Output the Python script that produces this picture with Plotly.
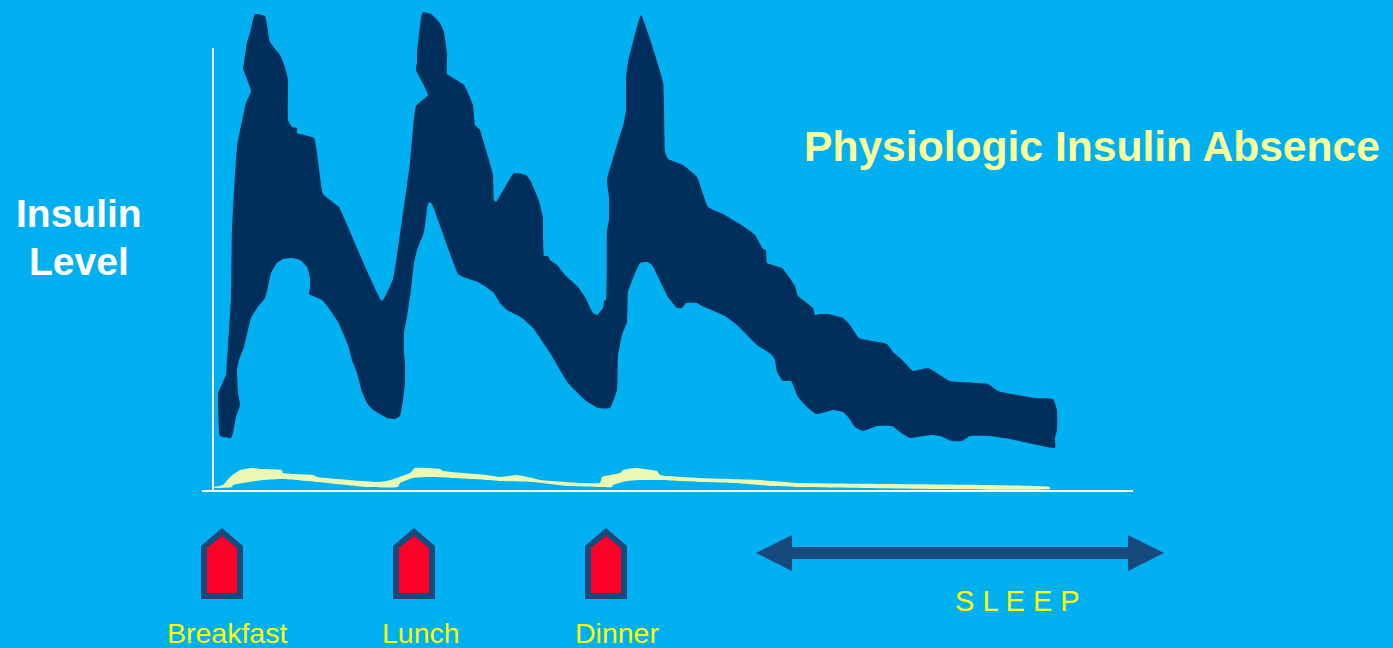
import plotly.graph_objects as go

# Horizontal / vertical positions are in the picture's own scale (y grows downward).
band_x = [218,220,231,233,236,240,238,237,239,244,251,257,265,268,271,277,283,292,300,307,310,310,309,322,328,338,348,352,357,362,367,372,387,395,400,403,405,405,404,404,407,411,414,417,424,427,427,429,432,438,448,458,463,478,493,500,507,522,533,550,568,585,598,610,617,618,622,627,628,633,640,647,652,668,677,682,686,697,700,725,737,757,772,775,777,783,791,798,807,816,822,833,843,848,855,863,877,892,900,910,930,940,952,962,970,990,1010,1055,1055,1057,1057,1053,1034,998,988,950,928,913,907,900,893,887,859,850,843,828,820,815,813,798,795,782,767,766,763,755,743,723,708,697,683,668,665,663,641,633,628,626,626,624,607,609,609,607,606,604,603,597,593,585,578,565,557,550,548,544,543,543,538,530,526,514,496,494,493,483,480,475,473,464,450,447,447,444,440,431,423,421,417,417,416,428,416,410,402,393,382,345,339,323,314,297,297,292,288,288,285,280,270,265,255,250,247,244,243,251,246,237,232,231,226]
band_y = [393,436,438,433,417,405,393,370,360,347,318,308,298,287,273,263,259,258,260,267,278,288,294,300,307,322,345,360,373,392,403,409,418,419,416,400,383,362,353,333,317,290,263,250,232,210,208,202,204,220,248,274,277,282,292,303,310,318,328,353,383,400,408,408,390,357,335,322,292,278,263,262,265,297,308,308,303,303,305,316,325,345,355,360,372,381,381,397,407,414,413,410,412,417,427,431,426,426,432,438,435,436,441,441,436,436,439,448,438,430,410,399,398,391,384,381,368,371,365,358,352,344,338,325,318,314,314,315,308,296,286,268,263,250,249,235,226,214,207,177,165,159,152,82,15,42,62,78,110,122,180,197,220,230,300,301,308,315,313,297,287,275,265,260,256,256,220,217,198,180,175,173,202,200,175,140,130,125,105,85,76,74,53,32,23,14,12,18,53,62,70,95,106,163,220,279,301,220,207,194,138,133,128,127,120,80,67,55,42,16,14,33,42,63,68,91,103,147,230,297,375]

trace_x = [214,223,230,240,252,262,282,283,313,317,377,387,410,415,440,443,487,500,517,533,540,600,602,620,623,635,657,660,700,760,800,1050,1050,800,773,733,700,660,640,627,613,612,600,567,533,500,487,453,427,413,400,398,367,317,283,263,233,232,214]
trace_y = [487,485,477,470,468,469,470,473,475,477,482,481,473,468,469,471,475,477,475,478,480,483,477,473,470,468,471,475,478,480,483,487,489,487,486,483,482,480,480,481,485,487,487,486,482,481,480,478,477,478,483,487,487,482,479,480,485,487,488]

y_axis_x = [213, 213]
y_axis_y = [48, 491]
x_axis_x = [202, 1133]
x_axis_y = [491, 491]

meal_labels = ["Breakfast", "Lunch", "Dinner"]
meal_label_x = [227, 421, 617]
meal_offsets = [0, 192, 384]
house_outer_x = [201, 201, 222, 243, 243, 201]
house_outer_y = [599, 546, 528, 546, 599, 599]
house_inner_x = [207, 207, 222, 237, 237, 207]
house_inner_y = [593, 548, 536, 548, 593, 593]

arrow_x = [756, 792, 792, 1128, 1128, 1164, 1128, 1128, 792, 792, 756]
arrow_y = [553, 535, 547, 547, 535, 553, 571, 559, 559, 571, 553]

BG = "#00B0F0"
DARK = "#002F5B"
CREAM = "#EAF8B4"
NAVY = "#174A7C"
RED = "#FF0029"
FONT = "Liberation Sans"


def poly(x, y, color, smooth=False):
    line = dict(color=color, width=0)
    if smooth:
        line.update(shape="spline", smoothing=0.35)
    return go.Scatter(x=x, y=y, mode="lines", fill="toself", fillcolor=color,
                      line=line, hoverinfo="skip", showlegend=False)


def rule(x, y):
    return go.Scatter(x=x, y=y, mode="lines", line=dict(color="white", width=2),
                      hoverinfo="skip", showlegend=False)


fig = go.Figure()
fig.add_trace(rule(y_axis_x, y_axis_y))
fig.add_trace(rule(x_axis_x, x_axis_y))
fig.add_trace(poly(band_x, band_y, DARK, smooth=True))
fig.add_trace(poly(trace_x, trace_y, CREAM, smooth=True))
for off in meal_offsets:
    fig.add_trace(poly([v + off for v in house_outer_x], house_outer_y, NAVY))
    fig.add_trace(poly([v + off for v in house_inner_x], house_inner_y, RED))
fig.add_trace(poly(arrow_x, arrow_y, NAVY))


def label(x, y, text, size, color, bold=False):
    fig.add_annotation(x=x, y=y, text=f"<b>{text}</b>" if bold else text, showarrow=False,
                       xanchor="center", yanchor="middle",
                       font=dict(family=FONT, size=size, color=color))


label(1092, 146, "Physiologic Insulin Absence", 42.6, "#FFFF99", True)
label(79, 213, "Insulin", 39, "white", True)
label(79, 261, "Level", 39, "white", True)
for name, x in zip(meal_labels, meal_label_x):
    label(x, 633, name, 28.5, "#FFFF00")
label(1017, 601, "S L E E P", 29, "#FFFF00")

fig.update_layout(
    width=1393, height=648, autosize=False,
    margin=dict(l=0, r=0, t=0, b=0),
    paper_bgcolor=BG, plot_bgcolor=BG,
    xaxis=dict(range=[0, 1393], visible=False, fixedrange=True),
    yaxis=dict(range=[648, 0], visible=False, fixedrange=True),
)
fig.write_html("out.html", config={"displayModeBar": False},
               post_script="document.body.style.margin='0';document.body.style.background='" + BG + "';document.body.style.overflow='hidden';")
